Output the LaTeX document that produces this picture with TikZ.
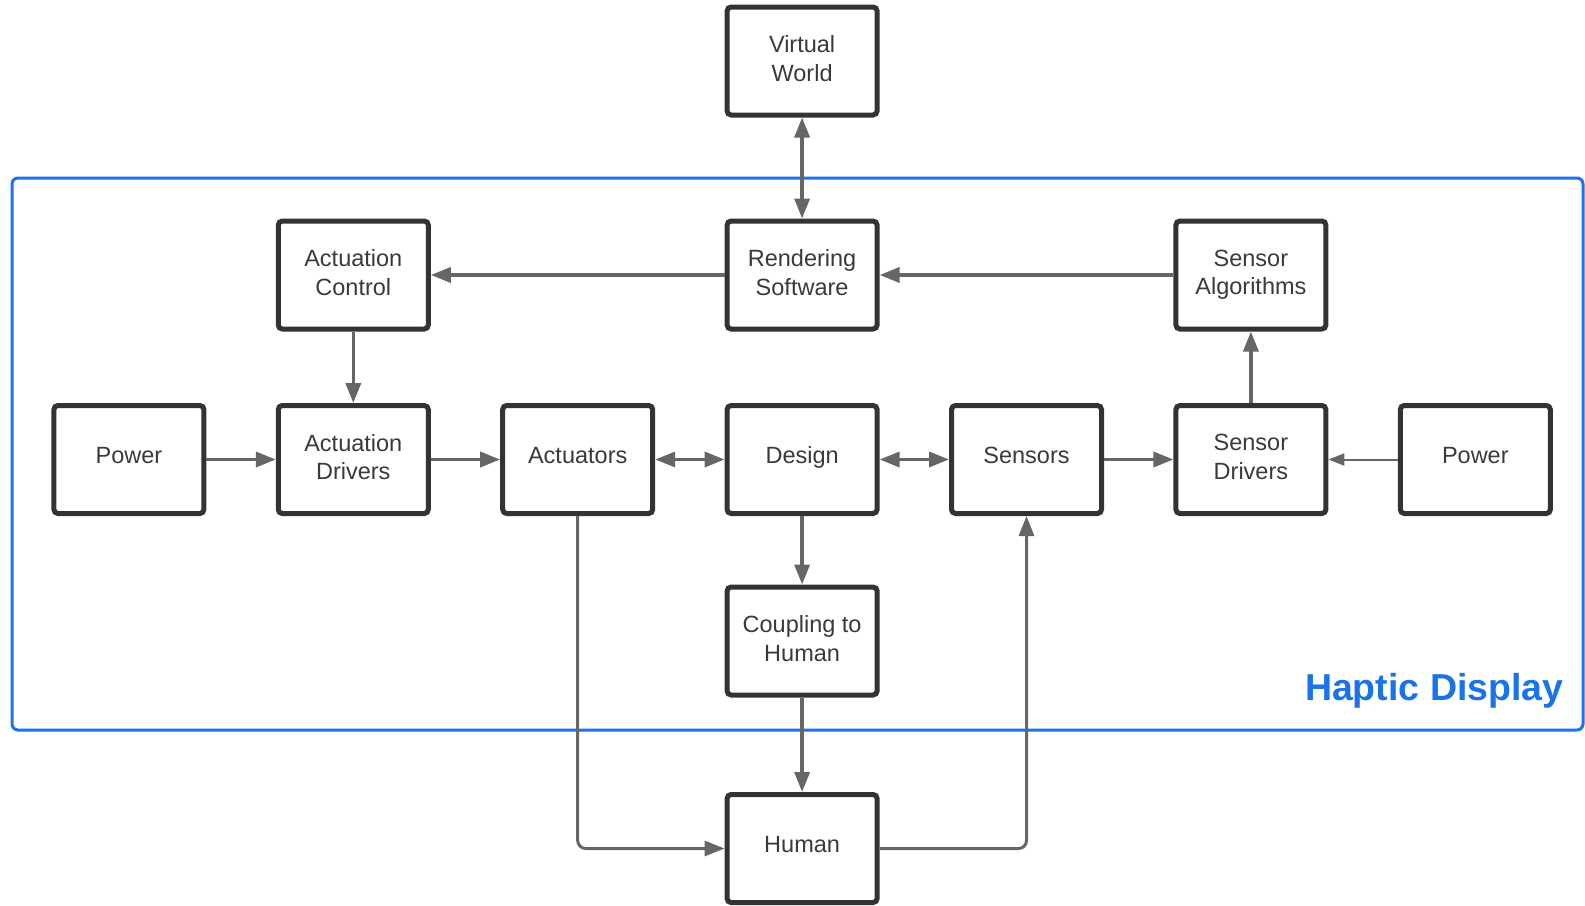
\documentclass[tikz,border=0pt]{standalone}
\usepackage{fontspec}
\setmainfont{Liberation Sans}
\usetikzlibrary{arrows.meta}
\definecolor{boxc}{HTML}{333333}
\definecolor{boxt}{HTML}{3A3A3A}
\definecolor{arr}{HTML}{666666}
\definecolor{hblue}{HTML}{1A73E8}
\begin{document}
\begin{tikzpicture}[x=1pt,y=-1pt,
  blk/.style={draw=boxc, fill=white, line width=5pt, rounded corners=4pt,
    minimum width=150pt, minimum height=108pt, inner sep=0pt, align=center,
    font=\fontsize{23.5}{28.5}\selectfont, text=boxt, text depth=5pt},
  one/.style={text depth=9pt},
  tip/.tip={Triangle[length=20pt,width=15pt]},
  con/.style={draw=arr, line width=3.5pt, -tip},
  bicon/.style={draw=arr, line width=3.5pt, tip-tip},
  thin/.style={draw=arr, line width=2pt, -{Triangle[length=16pt,width=12pt]}}]
\useasboundingbox (0,0) rectangle (1585,905);
% frame
\draw[hblue, line width=3pt, rounded corners=6pt] (12,178) rectangle (1583,730);
\node[anchor=base east, text=hblue, font=\fontsize{37.5}{40}\selectfont\bfseries] (hd) at (1567,700) {Haptic Display};
% boxes
\node[blk] (vw) at (802.1,61) {Virtual\\World};
\node[blk] (ac) at (353.3,275) {Actuation\\Control};
\node[blk] (rs) at (802.1,275) {Rendering\\Software};
\node[blk] (sa) at (1250.9,275) {Sensor\\Algorithms};
\node[blk, one] (p1) at (128.9,459.5) {Power};
\node[blk] (ad) at (353.3,459.5) {Actuation\\Drivers};
\node[blk, one] (act) at (577.7,459.5) {Actuators};
\node[blk, one] (des) at (802.1,459.5) {Design};
\node[blk, one] (sen) at (1026.5,459.5) {Sensors};
\node[blk] (sd) at (1250.9,459.5) {Sensor\\Drivers};
\node[blk, one] (p2) at (1475.3,459.5) {Power};
\node[blk] (cp) at (802.1,641) {Coupling to\\Human};
\node[blk, one] (hu) at (802.1,848.5) {Human};
% connectors
\draw[bicon] (vw) -- (rs);
\draw[con] (rs) -- (ac);
\draw[con] (sa) -- (rs);
\draw[con] (ac) -- (ad);
\draw[con] (p1) -- (ad);
\draw[con] (ad) -- (act);
\draw[bicon] (act) -- (des);
\draw[bicon] (des) -- (sen);
\draw[con] (sen) -- (sd);
\draw[thin] (p2) -- (sd);
\draw[con] (sd) -- (sa);
\draw[con] (des) -- (cp);
\draw[con] (cp) -- (hu);
\draw[con, line width=3pt, rounded corners=8pt] (act.south) |- (hu.west);
\draw[con, line width=3pt, rounded corners=8pt] (hu.east) -| (sen.south);
\end{tikzpicture}
\end{document}
